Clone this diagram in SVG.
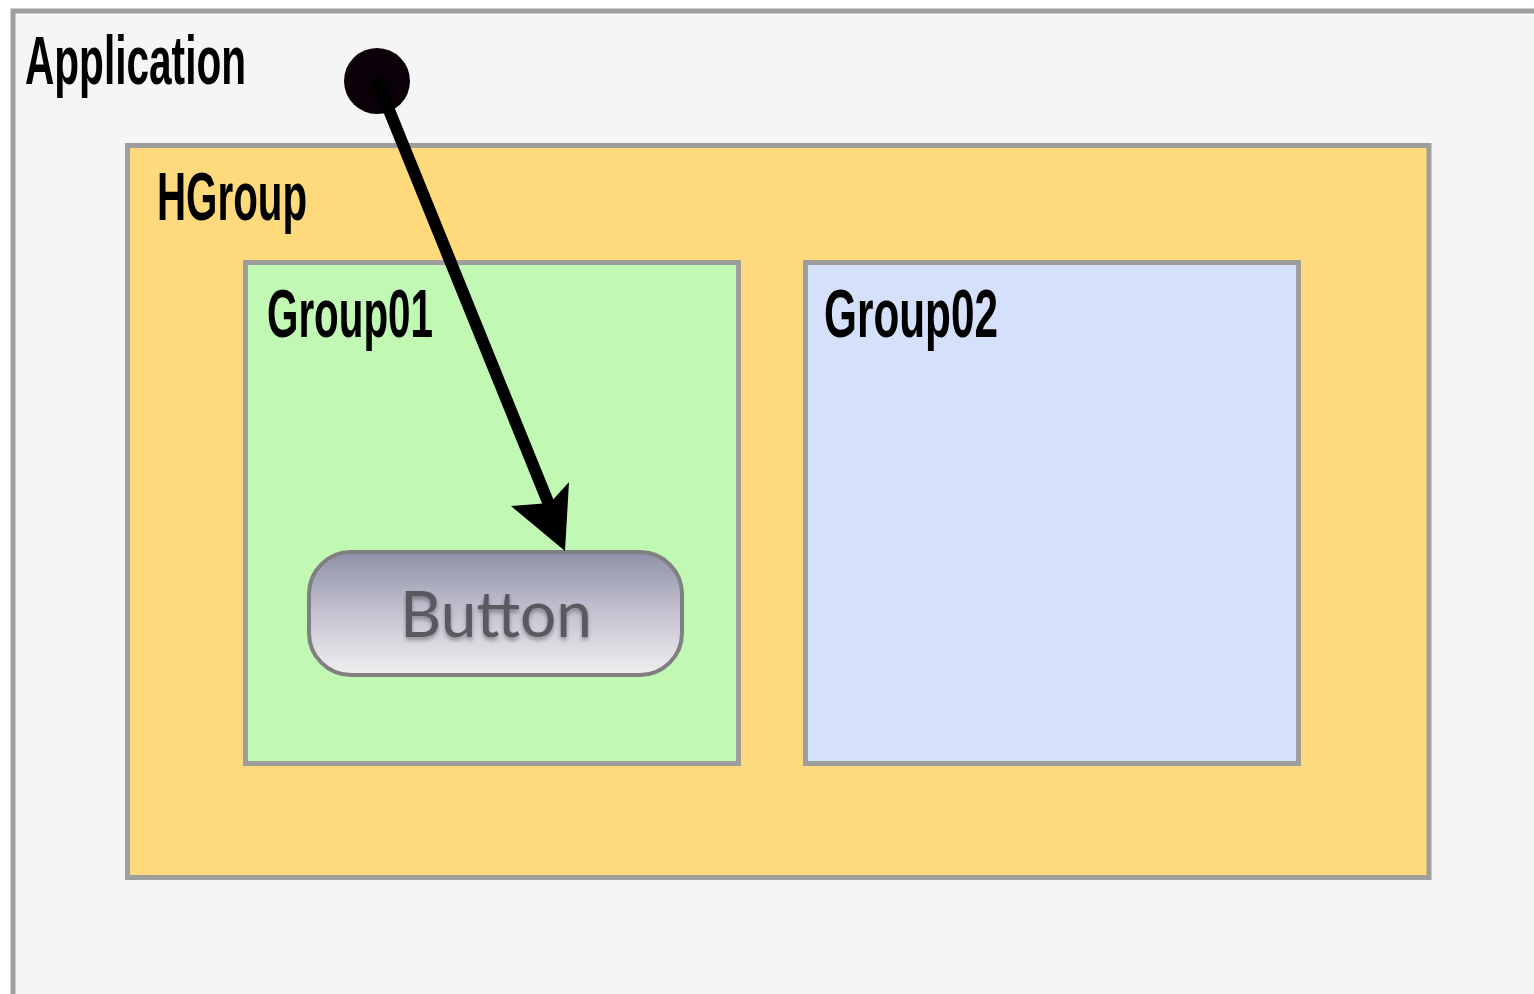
<svg xmlns="http://www.w3.org/2000/svg" width="1534" height="994" viewBox="0 0 1534 994">
  <style>
    .box { stroke: #9e9e9e; stroke-width: 5; }
    .label { font-family: "Liberation Sans", Arial, sans-serif; font-size: 68px; font-weight: bold; fill: #000; }
    .btn-text { font-family: "Lato", "Open Sans", sans-serif; font-size: 64px; fill: #5c5860; }
  </style>
  <defs>
    <linearGradient id="btnFill" x1="0" y1="0" x2="0" y2="1">
      <stop offset="0" stop-color="#8f8fa8"/>
      <stop offset="0.5" stop-color="#c4c4d2"/>
      <stop offset="1" stop-color="#efeff1"/>
    </linearGradient>
    <filter id="textShadow" x="-10%" y="-20%" width="120%" height="150%">
      <feGaussianBlur in="SourceAlpha" stdDeviation="2"/>
      <feOffset dx="0" dy="3" result="b"/>
      <feComponentTransfer><feFuncA type="linear" slope="0.35"/></feComponentTransfer>
      <feMerge><feMergeNode/><feMergeNode in="SourceGraphic"/></feMerge>
    </filter>
  </defs>

  <rect width="1534" height="994" fill="#ffffff"/>

  <g id="application">
    <rect class="box" x="13" y="11" width="1540" height="1000" fill="#f5f5f5"/>
    <text class="label" x="25" y="84" textLength="221" lengthAdjust="spacingAndGlyphs">Application</text>
  </g>

  <g id="hgroup">
    <rect class="box" x="127.5" y="145.5" width="1301.5" height="732" fill="#ffda7c"/>
    <text class="label" x="157" y="220" textLength="150" lengthAdjust="spacingAndGlyphs">HGroup</text>
  </g>

  <g id="group01">
    <rect class="box" x="245.5" y="262.5" width="493" height="501" fill="#c1f8b3"/>
    <text class="label" x="267" y="337" textLength="166" lengthAdjust="spacingAndGlyphs">Group01</text>
  </g>

  <g id="group02">
    <rect class="box" x="805.5" y="262.5" width="493" height="501" fill="#d5e1fb"/>
    <text class="label" x="824" y="337" textLength="174" lengthAdjust="spacingAndGlyphs">Group02</text>
  </g>

  <g id="button">
    <rect x="309" y="552" width="373" height="123" rx="42" fill="url(#btnFill)" stroke="#808080" stroke-width="4"/>
    <text class="btn-text" x="496" y="637" text-anchor="middle" filter="url(#textShadow)">Button</text>
  </g>

  <g id="connectors">
    <circle cx="377" cy="81" r="33" fill="#0a0008"/>
    <line x1="376" y1="78" x2="550" y2="507" stroke="#000" stroke-width="12"/>
    <polygon points="565,551 511,506 550,503 569,482" fill="#000"/>
  </g>
</svg>
